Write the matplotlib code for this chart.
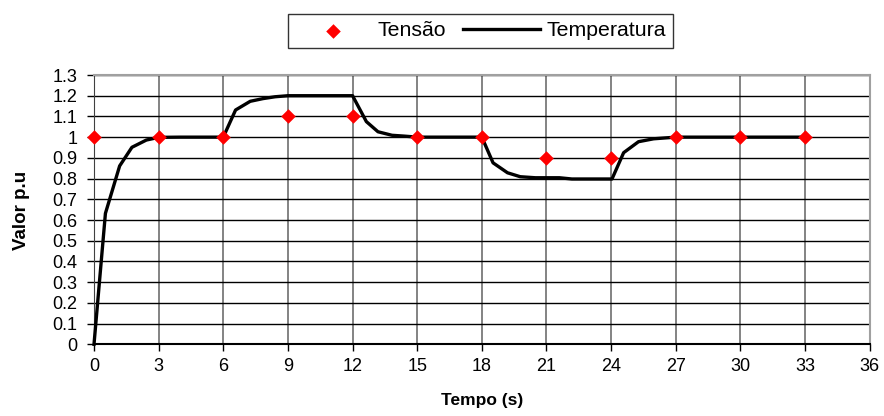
import matplotlib
matplotlib.use('Agg')
import matplotlib.pyplot as plt

plt.rcParams['font.family'] = ['Liberation Sans', 'DejaVu Sans']

# tensão aplicada (pontos a cada 3 s)
tempo_tensao = [0, 3, 6, 9, 12, 15, 18, 21, 24, 27, 30, 33]
tensao = [1.0, 1.0, 1.0, 1.1, 1.1, 1.0, 1.0, 0.9, 0.9, 1.0, 1.0, 1.0]

# resposta da temperatura
tempo_temp = [0, 0.53, 1.19, 1.76, 2.43, 3.0, 4.0, 5.0, 6.0, 6.57, 7.25, 7.84,
              8.41, 9.0, 10.0, 11.0, 12.0, 12.64, 13.18, 13.83, 14.4, 15.0,
              16.0, 17.0, 18.0, 18.52, 19.19, 19.78, 20.48, 21.6, 22.18, 23.0,
              24.04, 24.58, 25.27, 25.97, 27.0, 28.0, 30.0, 33.0]
temperatura = [0.0, 0.632, 0.861, 0.951, 0.986, 0.999, 1.0, 1.0, 1.0, 1.131,
               1.173, 1.186, 1.195, 1.2, 1.2, 1.2, 1.2, 1.075, 1.026, 1.009,
               1.005, 1.0, 1.0, 1.0, 1.0, 0.876, 0.828, 0.809, 0.804, 0.804,
               0.798, 0.798, 0.798, 0.925, 0.978, 0.992, 1.0, 1.0, 1.0, 1.0]

x_ticks = list(range(0, 37, 3))
y_ticks = [i / 10 for i in range(14)]

W, H = 884, 416
x0, x1, y0, y1 = 94, 869.7, 344.3, 75  # limites da área do gráfico em pixels

fig = plt.figure(figsize=(W / 100, H / 100), dpi=100)
ax = fig.add_axes([x0 / W, (H - y0) / H, (x1 - x0) / W, (y0 - y1) / H])

ax.plot(tempo_temp, temperatura, color='black', lw=2.4, label='Temperatura', zorder=3,
        clip_on=False)
ax.scatter(tempo_tensao, tensao, marker='D', s=55, color='#ff0000', label='Tensão',
           zorder=4, clip_on=False, linewidths=0)

ax.set_xlim(0, 36)
ax.set_ylim(0, 1.3)
ax.set_xticks(x_ticks)
ax.set_yticks(y_ticks)
ax.set_xticklabels([str(t) for t in x_ticks], fontsize=13)
ax.set_yticklabels(['0' if v == 0 else ('1' if v == 1 else f'{v:.1f}') for v in y_ticks],
                   fontsize=13)
ax.tick_params(axis='both', direction='out', length=5, width=1, color='black')
ax.tick_params(axis='y', pad=7)
ax.tick_params(axis='x', pad=5)

ax.grid(axis='y', color='black', lw=1)
ax.grid(axis='x', color='#6e6e6e', lw=1.2)
ax.set_axisbelow(True)
for side in ['top', 'right']:
    ax.spines[side].set_color('#a0a0a0')
    ax.spines[side].set_linewidth(1.5)
ax.spines['left'].set_color('#404040')
ax.spines['bottom'].set_color('black')
ax.spines['bottom'].set_linewidth(1.5)

ax.set_xlabel('Tempo (s)', fontsize=12.5, fontweight='bold')
ax.set_ylabel('Valor p.u', fontsize=13.5, fontweight='bold')
ax.xaxis.set_label_coords(0.5, -(393 - y0) / (y0 - y1))
ax.yaxis.set_label_coords((30 - x0) / (x1 - x0), 0.5 - (210 - (y0 + y1) / 2) / (y0 - y1))

handles, labels = ax.get_legend_handles_labels()
leg = fig.legend(handles[::-1], labels[::-1], ncol=2, fontsize=15.3,
                 loc='center', bbox_to_anchor=((289 + 672) / 2 / W, 1 - 31 / H),
                 frameon=True, fancybox=False, edgecolor='black', borderpad=0.35,
                 handlelength=3.6, columnspacing=0.8, handletextpad=0.3)
leg.get_frame().set_linewidth(1)

fig.savefig('out.png', dpi=100)
